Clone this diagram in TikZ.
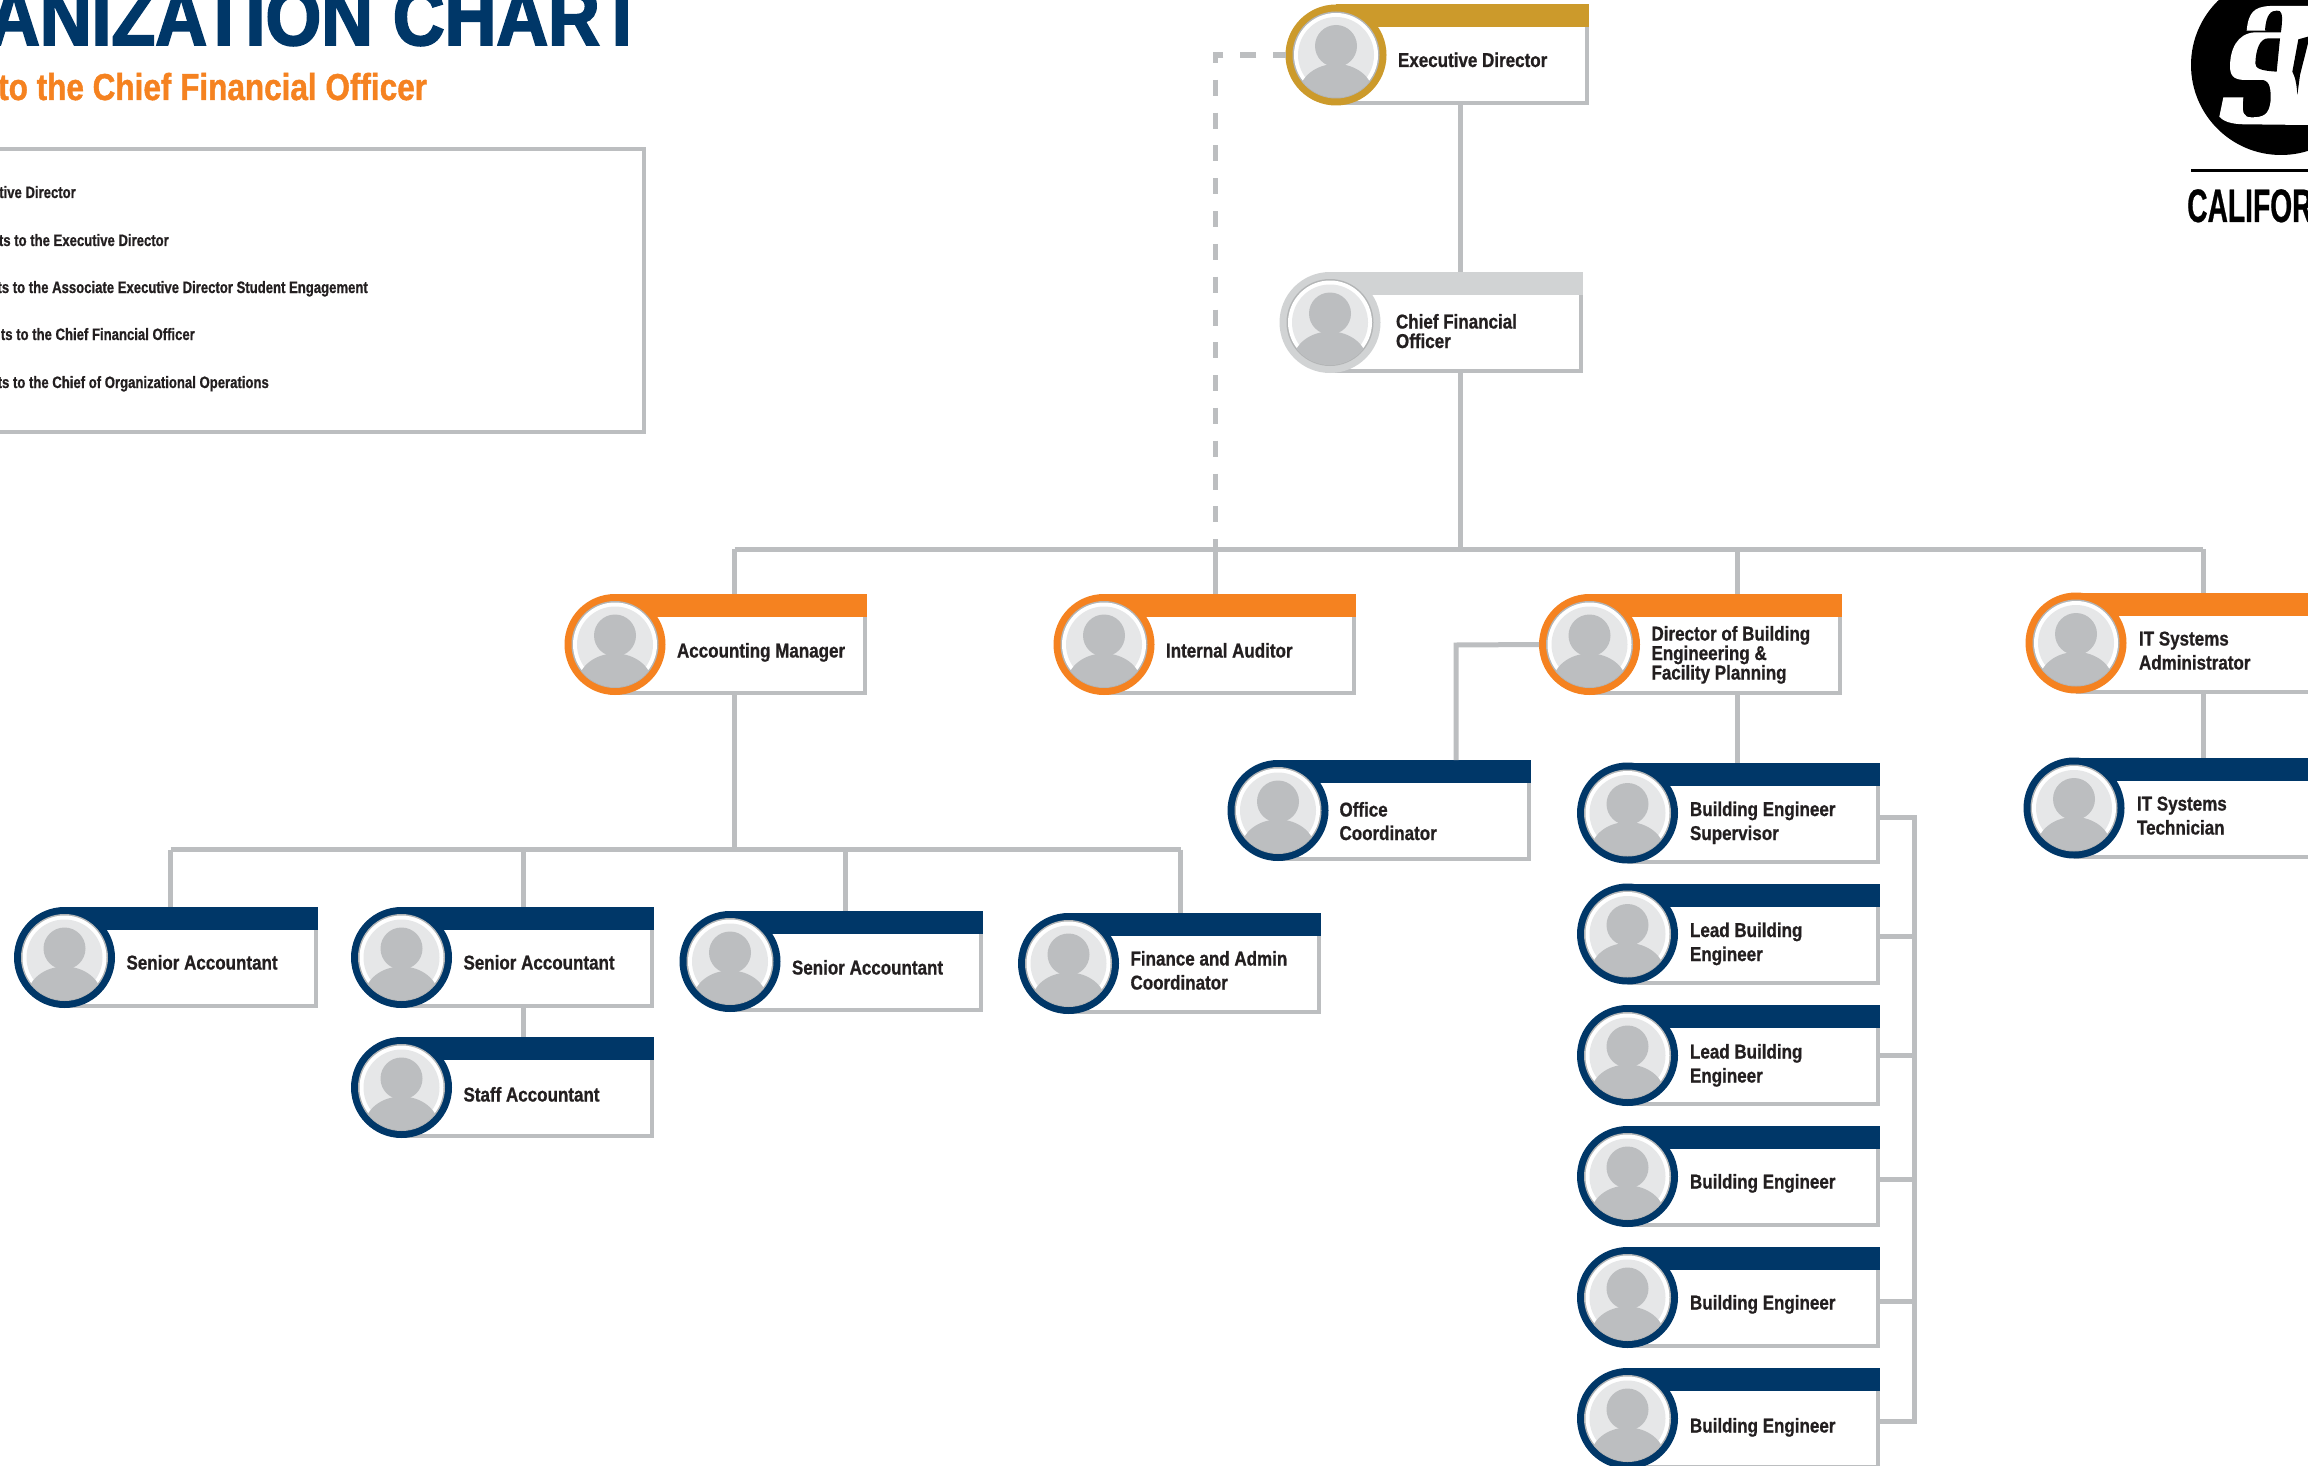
\documentclass[tikz,border=0pt]{standalone}
\usepackage{fontspec}
\setmainfont{Liberation Sans}
\newfontfamily\cardfont[FakeStretch=.85,FakeBold=.8]{Liberation Sans Bold}
\newfontfamily\legendfont[FakeStretch=.795,FakeBold=.8]{Liberation Sans Bold}
\newfontfamily\titlefont[FakeStretch=.885,FakeBold=2.4]{Liberation Sans Bold}
\newfontfamily\subfont[FakeStretch=.84,FakeBold=1.1]{Liberation Sans Bold}
\newfontfamily\logofont[FakeStretch=.6,FakeBold=.5]{Liberation Sans Bold}
\definecolor{navy}{HTML}{003768}
\definecolor{orangec}{HTML}{F58220}
\definecolor{goldc}{HTML}{CC9A2B}
\definecolor{silverc}{HTML}{D1D3D4}
\definecolor{linec}{HTML}{BCBEC0}
\definecolor{discc}{HTML}{E6E7E8}
\definecolor{inkc}{HTML}{231F20}
\tikzset{
  x=1pt,y=-1pt,
  conn/.style={draw=linec,line width=5pt},
  dashconn/.style={draw=linec,line width=5.3pt,dash pattern=on 16pt off 16.8pt,dash phase=3.5pt},
  frameline/.style={draw=linec,line width=4pt},
  cardshape/.style={rectangle,inner sep=0pt,outer sep=0pt,fill=white},
  cardtext/.style={anchor=base west,inner sep=0pt,outer sep=0pt,align=left,text=inkc,font=\cardfont\fontsize{20}{#1}\selectfont},
  legendtext/.style={anchor=base east,inner sep=0pt,text=inkc,font=\legendfont\fontsize{16.5}{18}\selectfont},
}
% name, cx, top, right, colour, text dx, last baseline offset from circle centre, leading, text
\newcommand{\orgcard}[9]{%
  \pgfmathsetmacro{\cardcy}{#3+50.5}%
  \pgfmathsetmacro{\cardbot}{#3+101}%
  \pgfmathsetmacro{\cardmid}{(#2-50.5+#4)/2}%
  \pgfmathsetmacro{\cardw}{#4-#2+50.5}%
  \node[cardshape,minimum width=\cardw pt,minimum height=101pt] (#1) at (\cardmid,\cardcy) {};
  \fill[white] (#1.north west) rectangle (#1.south east);
  \fill[#5] (#2,#3) rectangle (#4,#3+23);
  \draw[frameline] (#2,\cardbot-2) -- (#4-2,\cardbot-2) -- (#4-2,#3+23);
  \fill[#5] (#2,\cardcy) circle (50.5pt);
  \fill[linec!85!gray] (#2,\cardcy) circle (43.5pt);
  \fill[white] (#2,\cardcy) circle (42pt);
  \fill[discc] (#2,\cardcy) circle (38pt);
  \begin{scope}
    \clip (#2,\cardcy) circle (42.5pt);
    \fill[linec] (#2,\cardcy-9) circle (21pt);
    \fill[linec] (#2,\cardcy+39) ellipse (37pt and 30pt);
  \end{scope}
  \node[cardtext=#8] (#1-label) at (#2+#6,\cardcy+#7) {#9};
}
\begin{document}
\begin{tikzpicture}
\useasboundingbox[fill=white] (0,0) rectangle (2308,1466);
\begin{scope}
\clip (0,0) rectangle (2308,1466);

% junction coordinates
\coordinate (top) at (1460,0);
\coordinate (jAcc) at (734.5,549);
\coordinate (jAud) at (1215.5,549);
\coordinate (jDir) at (1737.5,549);
\coordinate (jIT) at (2203,549);
\coordinate (dashC) at (1215.5,55);
\coordinate (offC) at (1456,645);
\coordinate (jS1) at (170.5,849.5);
\coordinate (jS2) at (523,849.5);
\coordinate (jS3) at (845,849.5);
\coordinate (jFin) at (1180.5,849.5);
\coordinate (rail) at (1914,0);

% cards
\orgcard{exec}{1336}{4.5}{1589}{goldc}{62}{12}{20}{Executive Director}
\orgcard{cfo}{1330}{272}{1583}{silverc}{66}{25.5}{19.5}{Chief Financial\\Officer}
\orgcard{acct}{615}{594}{867}{orangec}{62}{13}{20}{Accounting Manager}
\orgcard{aud}{1104}{594}{1356}{orangec}{62}{13}{20}{Internal Auditor}
\orgcard{dir}{1589.5}{594}{1842}{orangec}{62}{35}{19.5}{Director of Building\\Engineering \&\\Facility Planning}
\orgcard{itadm}{2076}{592.5}{2330}{orangec}{63}{26.5}{24}{IT Systems\\Administrator}
\orgcard{off}{1278}{760}{1531}{navy}{61.5}{29.5}{23.5}{Office\\Coordinator}
\orgcard{ittech}{2074}{757.5}{2330}{navy}{63}{26.5}{24}{IT Systems\\Technician}
\orgcard{bsup}{1627.5}{762.5}{1880}{navy}{62.5}{27}{24}{Building Engineer\\Supervisor}
\orgcard{bl1}{1627.5}{883.5}{1880}{navy}{62.5}{27}{24}{Lead Building\\Engineer}
\orgcard{bl2}{1627.5}{1005}{1880}{navy}{62.5}{27}{24}{Lead Building\\Engineer}
\orgcard{be1}{1627.5}{1126}{1880}{navy}{62.5}{12}{20}{Building Engineer}
\orgcard{be2}{1627.5}{1247}{1880}{navy}{62.5}{12}{20}{Building Engineer}
\orgcard{be3}{1627.5}{1368}{1880}{navy}{62.5}{14}{20}{Building Engineer}
\orgcard{sa1}{64.5}{907}{317.5}{navy}{62}{12}{20}{Senior Accountant}
\orgcard{sa2}{401.5}{907}{654}{navy}{62}{12}{20}{Senior Accountant}
\orgcard{staff}{401.5}{1037}{654}{navy}{62}{14}{20}{Staff Accountant}
\orgcard{sa3}{730}{911}{983}{navy}{62}{13}{20}{Senior Accountant}
\orgcard{fin}{1068.5}{913}{1321}{navy}{62}{26}{24}{Finance and Admin\\Coordinator}

% connectors
\draw[dashconn] (exec.west |- dashC) -- (dashC) -- (jAud);
\draw[conn] (exec.south -| top) -- (cfo.north -| top);
\draw[conn] (cfo.south -| top) -- (top |- jIT);
\draw[conn] (jAcc) -- (jIT);
\draw[conn] (jAcc) -- (acct.north -| jAcc);
\draw[conn] (jAud) -- (aud.north -| jAud);
\draw[conn] (jDir) -- (dir.north -| jDir);
\draw[conn] (jIT) -- (itadm.north -| jIT);
\draw[conn] (itadm.south -| jIT) -- (ittech.north -| jIT);
\draw[conn] (dir.south -| jDir) -- (bsup.north -| jDir);
\draw[conn] (dir.west) -- (offC) -- (off.north -| offC);
\draw[conn] (acct.south -| jAcc) -- (jAcc |- jS1);
\draw[conn] (jS1) -- (jFin);
\draw[conn] (jS1) -- (sa1.north -| jS1);
\draw[conn] (jS2) -- (sa2.north -| jS2);
\draw[conn] (sa2.south -| jS2) -- (staff.north -| jS2);
\draw[conn] (jS3) -- (sa3.north -| jS3);
\draw[conn] (jFin) -- (fin.north -| jFin);
\draw[conn] (bsup.east |- 0,817.5) -- (rail |- 0,817.5) -- (rail |- 0,1421.5) -- (be3.east |- 0,1421.5);
\draw[conn] (bl1.east |- 0,936.5) -- (rail |- 0,936.5);
\draw[conn] (bl2.east |- 0,1055.5) -- (rail |- 0,1055.5);
\draw[conn] (be1.east |- 0,1179) -- (rail |- 0,1179);
\draw[conn] (be2.east |- 0,1301) -- (rail |- 0,1301);

% title block
\node[anchor=base east,inner sep=0pt,text=navy,font=\titlefont\fontsize{81}{81}\selectfont] (title) at (644,45) {ANIZATION CHART};
\node[anchor=base west,inner sep=0pt,text=orangec,font=\subfont\fontsize{37.5}{38}\selectfont] (subtitle) at (-2,100) {to the Chief Financial Officer};

% legend box
\node[rectangle,draw=linec,line width=4.7pt,fill=none,inner sep=0pt,minimum width=654pt,minimum height=283pt] (legend) at (317,290.5) {};
\node[legendtext] (l1) at (76,198) {tive Director};
\node[legendtext] (l2) at (169,246) {ts to the Executive Director};
\node[legendtext] (l3) at (368,293) {ts to the Associate Executive Director Student Engagement};
\node[legendtext] (l4) at (195,340) {ts to the Chief Financial Officer};
\node[legendtext] (l5) at (269,388) {ts to the Chief of Organizational Operations};

% logo
\fill[black] (2281,65) circle (90pt);
\begin{scope}[shift={(2180,0)},x=.33333pt,y=-.33333pt]
  \fill[white] (200,92) .. controls (205,40) and (220,20) .. (270,18) -- (384,18) -- (384,110) -- (303,110) -- (303,92) -- cycle;
  \fill[black] (255,92) .. controls (258,40) and (275,32) .. (290,32) .. controls (305,30) and (310,40) .. (303,95) -- cycle;
  \fill[white] (303,97) -- (225,97) .. controls (170,100) and (150,150) .. (150,200) .. controls (150,235) and (170,240) .. (200,240) -- (250,240) .. controls (272,245) and (272,270) .. (272,300) .. controls (268,345) and (250,352) .. (215,352) .. controls (190,352) and (185,340) .. (190,292) -- (130,292) -- (118,350) .. controls (135,370) and (170,373) .. (200,373) -- (384,375) -- (384,100) -- cycle;
  \fill[black] (300,115) -- (265,115) .. controls (240,115) and (228,145) .. (226,190) .. controls (226,205) and (240,212) .. (290,215) -- cycle;
  \fill[black] (355,118) -- (384,110) -- (384,130) -- (360,225) -- (352,285) .. controls (350,250) and (345,230) .. (337,215) -- cycle;
\end{scope}
\fill[black] (2191,169) rectangle (2308,172);
\node[anchor=base west,inner sep=0pt,text=black,font=\logofont\fontsize{47}{47}\selectfont] (state) at (2187,222) {CALIFOR};
\end{scope}
\end{tikzpicture}
\end{document}
